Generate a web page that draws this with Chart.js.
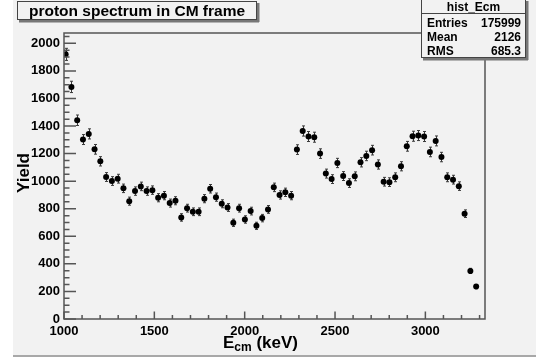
<!DOCTYPE html>
<html>
<head>
<meta charset="utf-8">
<script src="https://cdn.jsdelivr.net/npm/chart.js@4/dist/chart.umd.min.js"></script>
<style>
  html, body { margin: 0; padding: 0; background: #fff; }
  #c { display: block; }
</style>
</head>
<body>
<canvas id="c" width="536" height="360"></canvas>
<script>
// bin centres (keV) and counts per bin
const energies = [
  1009, 1041, 1073, 1105, 1137, 1169, 1201, 1233, 1265, 1297, 1329, 1361,
  1393, 1425, 1457, 1489, 1521, 1553, 1585, 1617, 1649, 1681, 1713, 1745,
  1777, 1809, 1841, 1873, 1905, 1937, 1969, 2001, 2033, 2065, 2097, 2129,
  2161, 2193, 2225, 2257, 2289, 2321, 2353, 2385, 2417, 2449, 2481, 2513,
  2545, 2577, 2609, 2641, 2673, 2705, 2737, 2769, 2801, 2833, 2865, 2897,
  2929, 2961, 2993, 3025, 3057, 3089, 3121, 3153, 3185, 3217, 3249, 3281
];
const yields = [
  1920, 1684, 1442, 1302, 1343, 1231, 1144, 1030, 1001, 1018, 948, 855,
  928, 962, 928, 935, 880, 895, 841, 858, 737, 804, 778, 778,
  873, 945, 884, 836, 809, 698, 804, 722, 783, 676, 732, 795,
  955, 900, 919, 895, 1229, 1364, 1324, 1319, 1200, 1055, 1015, 1132,
  1037, 986, 1035, 1137, 1183, 1225, 1121, 996, 993, 1028, 1108, 1253,
  1326, 1331, 1324, 1212, 1292, 1175, 1028, 1011, 964, 764, 349, 235
];

const xTicks = [1000, 1500, 2000, 2500, 3000];
const yTicks = [0, 200, 400, 600, 800, 1000, 1200, 1400, 1600, 1800, 2000];

const statsLabels = ['Entries', 'Mean', 'RMS'];
const statsValues = ['175999', '2126', '685.3'];

const FONT = "'Liberation Sans', Arial, Helvetica, sans-serif";
const PANEL = '#f2f2f2';
const LINE = '#555';

const points = energies.map((e, i) => ({ x: e, y: yields[i] }));

// ROOT-style pad: frame, inward ticks, error bars, title and stats boxes
const rootPad = {
  id: 'rootPad',
  beforeDraw(chart) {
    const c = chart.ctx;
    c.save();
    c.fillStyle = '#fff';
    c.fillRect(0, 0, chart.width, chart.height);
    c.fillStyle = PANEL;
    c.fillRect(13, 0, chart.width - 13, 355);
    c.fillStyle = '#a8a8a8';
    c.fillRect(13, 355, chart.width - 13, 2);
    c.restore();
  },
  beforeDatasetsDraw(chart) {
    const c = chart.ctx;
    const xs = chart.scales.x, ys = chart.scales.y;
    c.save();
    c.strokeStyle = '#3a3a3a';
    c.lineWidth = 1;
    energies.forEach((e, i) => {
      const err = Math.sqrt(yields[i]);
      const px = Math.round(xs.getPixelForValue(e)) + 0.5;
      const top = ys.getPixelForValue(yields[i] + err);
      const bot = ys.getPixelForValue(yields[i] - err);
      c.beginPath();
      c.moveTo(px, top); c.lineTo(px, bot);
      c.moveTo(px - 1.5, top); c.lineTo(px + 1.5, top);
      c.moveTo(px - 1.5, bot); c.lineTo(px + 1.5, bot);
      c.stroke();
    });
    c.restore();
  },
  afterDraw(chart) {
    const c = chart.ctx;
    const a = chart.chartArea;
    const xs = chart.scales.x, ys = chart.scales.y;
    c.save();

    // frame
    c.strokeStyle = LINE;
    c.lineWidth = 1.5;
    c.strokeRect(a.left, a.top, a.right - a.left, a.bottom - a.top);

    // y ticks: major every 200, minor every 50
    c.beginPath();
    for (let v = 0; v <= ys.max; v += 50) {
      const py = ys.getPixelForValue(v);
      const len = v % 200 === 0 ? 12 : 5.5;
      c.moveTo(a.left, py); c.lineTo(a.left + len, py);
    }
    // x ticks: major every 500, minor every 100
    for (let v = 1000; v <= xs.max; v += 100) {
      const px = xs.getPixelForValue(v);
      const len = v % 500 === 0 ? 7.5 : 4;
      c.moveTo(px, a.bottom); c.lineTo(px, a.bottom - len);
    }
    c.stroke();

    // boxes with a drop shadow on the right and bottom
    const boxShadow = (x, y, w, h) => {
      c.fillStyle = PANEL;
      c.fillRect(x, y, w, h);
      c.fillStyle = '#777';
      c.fillRect(x + w, y + 2, 2.5, h);
      c.fillRect(x + 2, y + h, w, 2.5);
      c.strokeStyle = '#444';
      c.lineWidth = 1;
      c.strokeRect(x + 0.5, y + 0.5, w - 1, h - 1);
    };

    // title box
    boxShadow(17, 1, 240, 19);
    c.fillStyle = '#000';
    c.font = 'bold 15.5px ' + FONT;
    c.textAlign = 'center';
    c.textBaseline = 'alphabetic';
    c.fillText('proton spectrum in CM frame', 137, 16);

    // stats box
    boxShadow(421, -1, 105, 59);
    c.strokeStyle = '#444';
    c.beginPath();
    c.moveTo(421, 13.5); c.lineTo(526, 13.5);
    c.stroke();
    c.fillStyle = '#000';
    c.font = 'bold 12px ' + FONT;
    c.textAlign = 'center';
    c.fillText('hist_Ecm', 473.5, 11);
    statsLabels.forEach((lab, i) => {
      const by = 26.5 + i * 14;
      c.textAlign = 'left';
      c.fillText(lab, 427, by);
      c.textAlign = 'right';
      c.fillText(statsValues[i], 521, by);
    });

    // axis titles
    c.textAlign = 'left';
    c.font = 'bold 17px ' + FONT;
    let tx = 223;
    c.fillText('E', tx, 348);
    tx += c.measureText('E').width;
    c.font = 'bold 12px ' + FONT;
    c.fillText('cm', tx, 351);
    tx += c.measureText('cm').width;
    c.font = 'bold 17px ' + FONT;
    c.fillText(' (keV)', tx, 348);

    c.translate(29, 173);
    c.rotate(-Math.PI / 2);
    c.textAlign = 'center';
    c.fillText('Yield', 0, 0);
    c.restore();
  }
};

const tickFont = { family: FONT, size: 13, weight: 'bold' };

new Chart(document.getElementById('c'), {
  type: 'scatter',
  data: {
    datasets: [{
      data: points,
      pointRadius: 3,
      pointBackgroundColor: '#000',
      pointBorderWidth: 0,
      showLine: false
    }]
  },
  options: {
    responsive: false,
    animation: false,
    layout: { padding: { left: 0, right: 51, top: 33, bottom: 0 } },
    plugins: {
      legend: { display: false },
      tooltip: { enabled: false },
      title: { display: false }
    },
    scales: {
      x: {
        type: 'linear',
        min: 1000,
        max: 3330,
        afterBuildTicks: s => { s.ticks = xTicks.map(v => ({ value: v })); },
        afterFit: s => { s.height = 41; },
        grid: { display: false, drawTicks: false },
        border: { display: false },
        ticks: {
          font: tickFont, color: '#000', padding: 5, maxRotation: 0, autoSkip: false,
          callback: v => String(v)
        }
      },
      y: {
        type: 'linear',
        min: 0,
        max: 2075,
        afterBuildTicks: s => { s.ticks = yTicks.map(v => ({ value: v })); },
        afterFit: s => { s.width = 64; },
        grid: { display: false, drawTicks: false },
        border: { display: false },
        ticks: {
          font: tickFont, color: '#000', padding: 4, autoSkip: false,
          callback: v => String(v)
        }
      }
    }
  },
  plugins: [rootPad]
});
</script>
</body>
</html>
